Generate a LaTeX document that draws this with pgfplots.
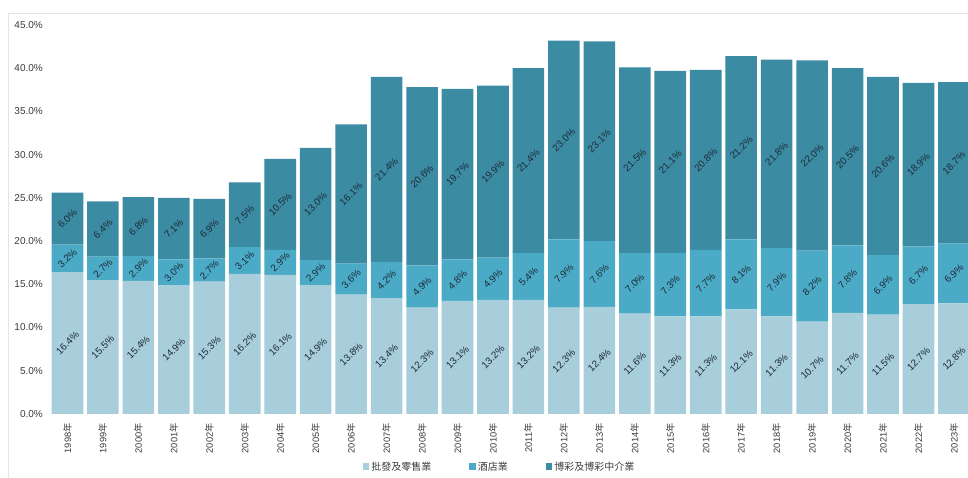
\documentclass[border=0pt]{standalone}
\usepackage{pgfplots}
\pgfplotsset{compat=1.18}
\usepackage{pgfplotstable}
\usepackage{fontspec}
\setmainfont{Liberation Sans}
\newfontfamily\cjk{Noto Sans CJK TC}

\definecolor{retail}{HTML}{A8CDDB}
\definecolor{hotel}{HTML}{4BAAC5}
\definecolor{gaming}{HTML}{3B8BA3}
\definecolor{labeltxt}{HTML}{1E2B38}
\definecolor{ticktxt}{HTML}{3A3A3A}
\definecolor{framegrey}{HTML}{E4E4E4}

% share of GDP by sector, 1998-2023 (x = year - 1998)
\pgfplotstableread{
x  retail hotel gaming
0  16.4   3.2   6.0
1  15.5   2.7   6.4
2  15.4   2.9   6.8
3  14.9   3.0   7.1
4  15.3   2.7   6.9
5  16.2   3.1   7.5
6  16.1   2.9   10.5
7  14.9   2.9   13.0
8  13.8   3.6   16.1
9  13.4   4.2   21.4
10 12.3   4.9   20.6
11 13.1   4.8   19.7
12 13.2   4.9   19.9
13 13.2   5.4   21.4
14 12.3   7.9   23.0
15 12.4   7.6   23.1
16 11.6   7.0   21.5
17 11.3   7.3   21.1
18 11.3   7.7   20.8
19 12.1   8.1   21.2
20 11.3   7.9   21.8
21 10.7   8.2   22.0
22 11.7   7.8   20.5
23 11.5   6.9   20.6
24 12.7   6.7   18.9
25 12.8   6.9   18.7
}\shares
% middle of each segment, for the labels
\pgfplotstablecreatecol[expr={\thisrow{retail}/2}]{rmid}\shares
\pgfplotstablecreatecol[expr={\thisrow{retail}+\thisrow{hotel}/2}]{hmid}\shares
\pgfplotstablecreatecol[expr={\thisrow{retail}+\thisrow{hotel}+\thisrow{gaming}/2}]{gmid}\shares

\pgfplotsset{
    frame/.style={
        at={(51.5bp,64bp)}, anchor=south west,
        scale only axis,
        width=918.4bp, height=389bp,
        xmin=-0.45, xmax=25.45,
        ymin=0, ymax=45,
    }
}

\begin{document}
\begin{tikzpicture}
% light frame of the original panel
\draw[framegrey, line width=1bp] (8bp,0bp) -- (8bp,464bp) -- (968bp,464bp);

\begin{axis}[
    frame,
    ybar stacked,
    bar width=31.6bp,
    axis line style={draw=none},
    major tick length=0pt,
    ytick={0,5,...,45},
    xtick={0,...,25},
    yticklabel={\pgfmathprintnumber[fixed,fixed zerofill,precision=1,assume math mode=true]{\tick}\%},
    xticklabel={\pgfmathparse{int(\tick+1998)}\pgfmathresult{\cjk 年}},
    yticklabel style={font=\fontsize{10bp}{12bp}\selectfont, text=ticktxt, inner sep=0pt, anchor=east},
    xticklabel style={font=\fontsize{9.3bp}{11bp}\selectfont, text=ticktxt, inner sep=0pt, rotate=90, anchor=east},
    yticklabel shift=8.5bp,
    xticklabel shift=9bp,
    legend style={at={(0.488,-0.136)}, anchor=center, draw=none, fill=none,
        legend columns=3,
        font=\cjk\fontsize{10bp}{12bp}\selectfont, text=ticktxt,
        /tikz/every even column/.append style={column sep=36bp}},
    legend image code/.code={\fill[#1] (0bp,-3bp) rectangle (6.5bp,3.5bp);},
]
\addplot[fill=retail, draw=none] table[x=x, y=retail] {\shares};
\addplot[fill=hotel, draw=none] table[x=x, y=hotel] {\shares};
\addplot[fill=gaming, draw=none] table[x=x, y=gaming] {\shares};
\legend{批發及零售業, 酒店業, 博彩及博彩中介業}
\end{axis}

% value labels, centred in their segments
\begin{axis}[
    frame,
    hide axis,
    point meta=explicit,
    nodes near coords={\pgfmathprintnumber[fixed,fixed zerofill,precision=1,assume math mode=true]{\pgfplotspointmeta}\%},
    every node near coord/.append style={
        rotate=45, anchor=center, inner sep=0pt,
        font=\fontsize{9.8bp}{11bp}\selectfont, text=labeltxt},
]
\addplot[draw=none, mark=none] table[x=x, y=rmid, meta=retail] {\shares};
\addplot[draw=none, mark=none] table[x=x, y=hmid, meta=hotel] {\shares};
\addplot[draw=none, mark=none] table[x=x, y=gmid, meta=gaming] {\shares};
\end{axis}
\pgfresetboundingbox
\useasboundingbox (0,0) rectangle (968bp,478bp);
\end{tikzpicture}
\end{document}
